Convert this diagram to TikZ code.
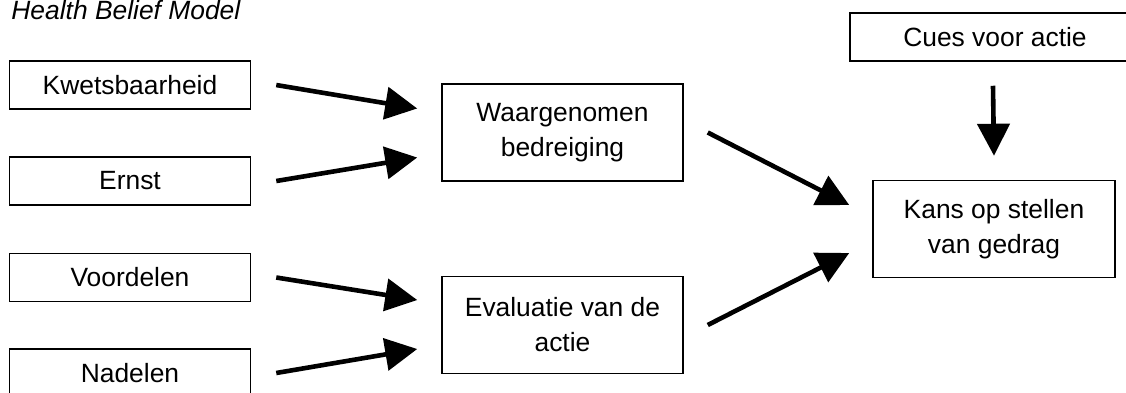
\documentclass[tikz,border=0pt]{standalone}
\usepackage{fontspec}
\setmainfont{Liberation Sans}
\usepackage{tikz}
\usetikzlibrary{arrows.meta,positioning,calc}
\tikzset{
  box/.style={draw,line width=0.75pt,inner sep=0pt,align=center,
    minimum width=120.5pt,minimum height=24pt,
    font=\fontsize{13.2}{17.5}\selectfont},
  bigbox/.style={box,minimum height=48.5pt},
  pijl/.style={line width=2.3pt,-{Triangle[length=16pt,width=16pt]}}
}

\begin{document}
\begin{tikzpicture}[x=0.5pt,y=-0.5pt]
  \useasboundingbox (0,0) rectangle (1126,392);
  \clip (0,0) rectangle (1126,392);

  % Titel
  \node[anchor=base west,inner sep=0pt,font=\fontsize{13.2}{16}\selectfont\itshape] (titel) at (11,19) {Health Belief Model};

  % Factoren links
  \node[box] (kwets) at (130,85) {Kwetsbaarheid};
  \node[box] (ernst) at (130,181) {Ernst};
  \node[box] (voordelen) at (130,277.5) {Voordelen};
  \node[box] (nadelen) at (130,373) {Nadelen};

  % Tussenstap
  \node[bigbox] (bedreiging) at (562.5,132.5) {Waargenomen\\bedreiging};
  \node[bigbox] (evaluatie) at (562.5,325) {Evaluatie van de\\actie};

  % Rechts
  \node[box,minimum width=145pt] (cues) at (995,37) {Cues voor actie};
  \node[bigbox,minimum width=121pt] (kans) at (994,229) {Kans op stellen\\van gedrag};

  % Pijlen
  \draw[pijl] ($(kwets.east)+(25,0)$) -- ($(bedreiging.west)+(-24,-24)$);
  \draw[pijl] ($(ernst.east)+(25,0)$) -- ($(bedreiging.west)+(-24,25)$);
  \draw[pijl] ($(voordelen.east)+(25,0)$) -- ($(evaluatie.west)+(-24,-25)$);
  \draw[pijl] ($(nadelen.east)+(25,0)$) -- ($(evaluatie.west)+(-24,24)$);
  \draw[pijl] ($(bedreiging.east)+(24,0)$) -- ($(kans.west)+(-23,-24)$);
  \draw[pijl] ($(evaluatie.east)+(24,0)$) -- ($(kans.west)+(-23,24)$);
  \draw[pijl] ($(cues.south)+(-2,24)$) -- ($(kans.north)+(0,-24)$);
\end{tikzpicture}
\end{document}
